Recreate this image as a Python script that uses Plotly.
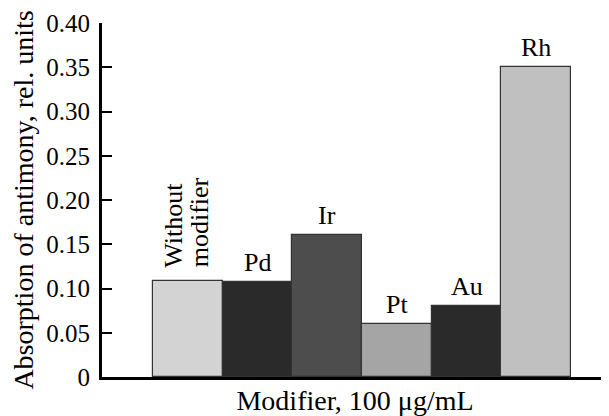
import plotly.graph_objects as go

categories = ["Without<br>modifier", "Pd", "Ir", "Pt", "Au", "Rh"]
values = [0.109, 0.107, 0.16, 0.06, 0.08, 0.35]
colors = ["#d3d3d3", "#2a2a2a", "#4d4d4d", "#a5a5a5", "#2a2a2a", "#c0c0c0"]
tick_vals = [0, 0.05, 0.10, 0.15, 0.20, 0.25, 0.30, 0.35, 0.40]
tick_text = ["0", "0.05", "0.10", "0.15", "0.20", "0.25", "0.30", "0.35", "0.40"]

FONT = "Liberation Serif, Times New Roman, serif"
xs = list(range(len(categories)))

fig = go.Figure(go.Bar(
    x=xs, y=values, width=1.0,
    marker=dict(color=colors, line=dict(color="#333333", width=1.2)),
    hoverinfo="skip",
))

for i, (c, v) in enumerate(zip(categories, values)):
    if i == 0:
        lines = c.split("<br>")
        for j, part in enumerate(lines):
            fig.add_annotation(x=i, y=v, text=part, showarrow=False, textangle=-90,
                               xanchor="center", yanchor="bottom", yshift=11,
                               xshift=-15 + 27 * j,
                               font=dict(family=FONT, size=26, color="black"))
    else:
        fig.add_annotation(x=i, y=v, text=c, showarrow=False,
                           yanchor="bottom", yshift=3, font=dict(family=FONT, size=26, color="black"))

# page body has an 8px margin, so the figure is offset by 8px; margins compensate
fig.update_layout(
    width=601, height=408,
    margin=dict(l=94, r=1, t=15, b=39, autoexpand=False),
    plot_bgcolor="white", paper_bgcolor="white",
    font=dict(family=FONT, size=25, color="black"),
    showlegend=False,
    bargap=0,
)
fig.update_xaxes(
    range=[-1.23, 6.03], showticklabels=False, ticks="", showgrid=False, zeroline=False,
    showline=True, linecolor="black", linewidth=3, automargin=False,
    title=dict(text="Modifier, 100 μg/mL", standoff=12, font=dict(family=FONT, size=28)),
)
fig.update_yaxes(
    range=[0, 0.4], tickvals=tick_vals, ticktext=tick_text, ticks="inside", ticklen=10,
    tickwidth=2, tickcolor="black", showgrid=False, zeroline=False,
    showline=True, linecolor="black", linewidth=3, automargin=False,
    ticklabelstandoff=4,
    title=dict(text="Absorption of antimony, rel. units", standoff=15, font=dict(family=FONT, size=28)),
    tickfont=dict(family=FONT, size=25),
)

fig.write_html("out.html")
